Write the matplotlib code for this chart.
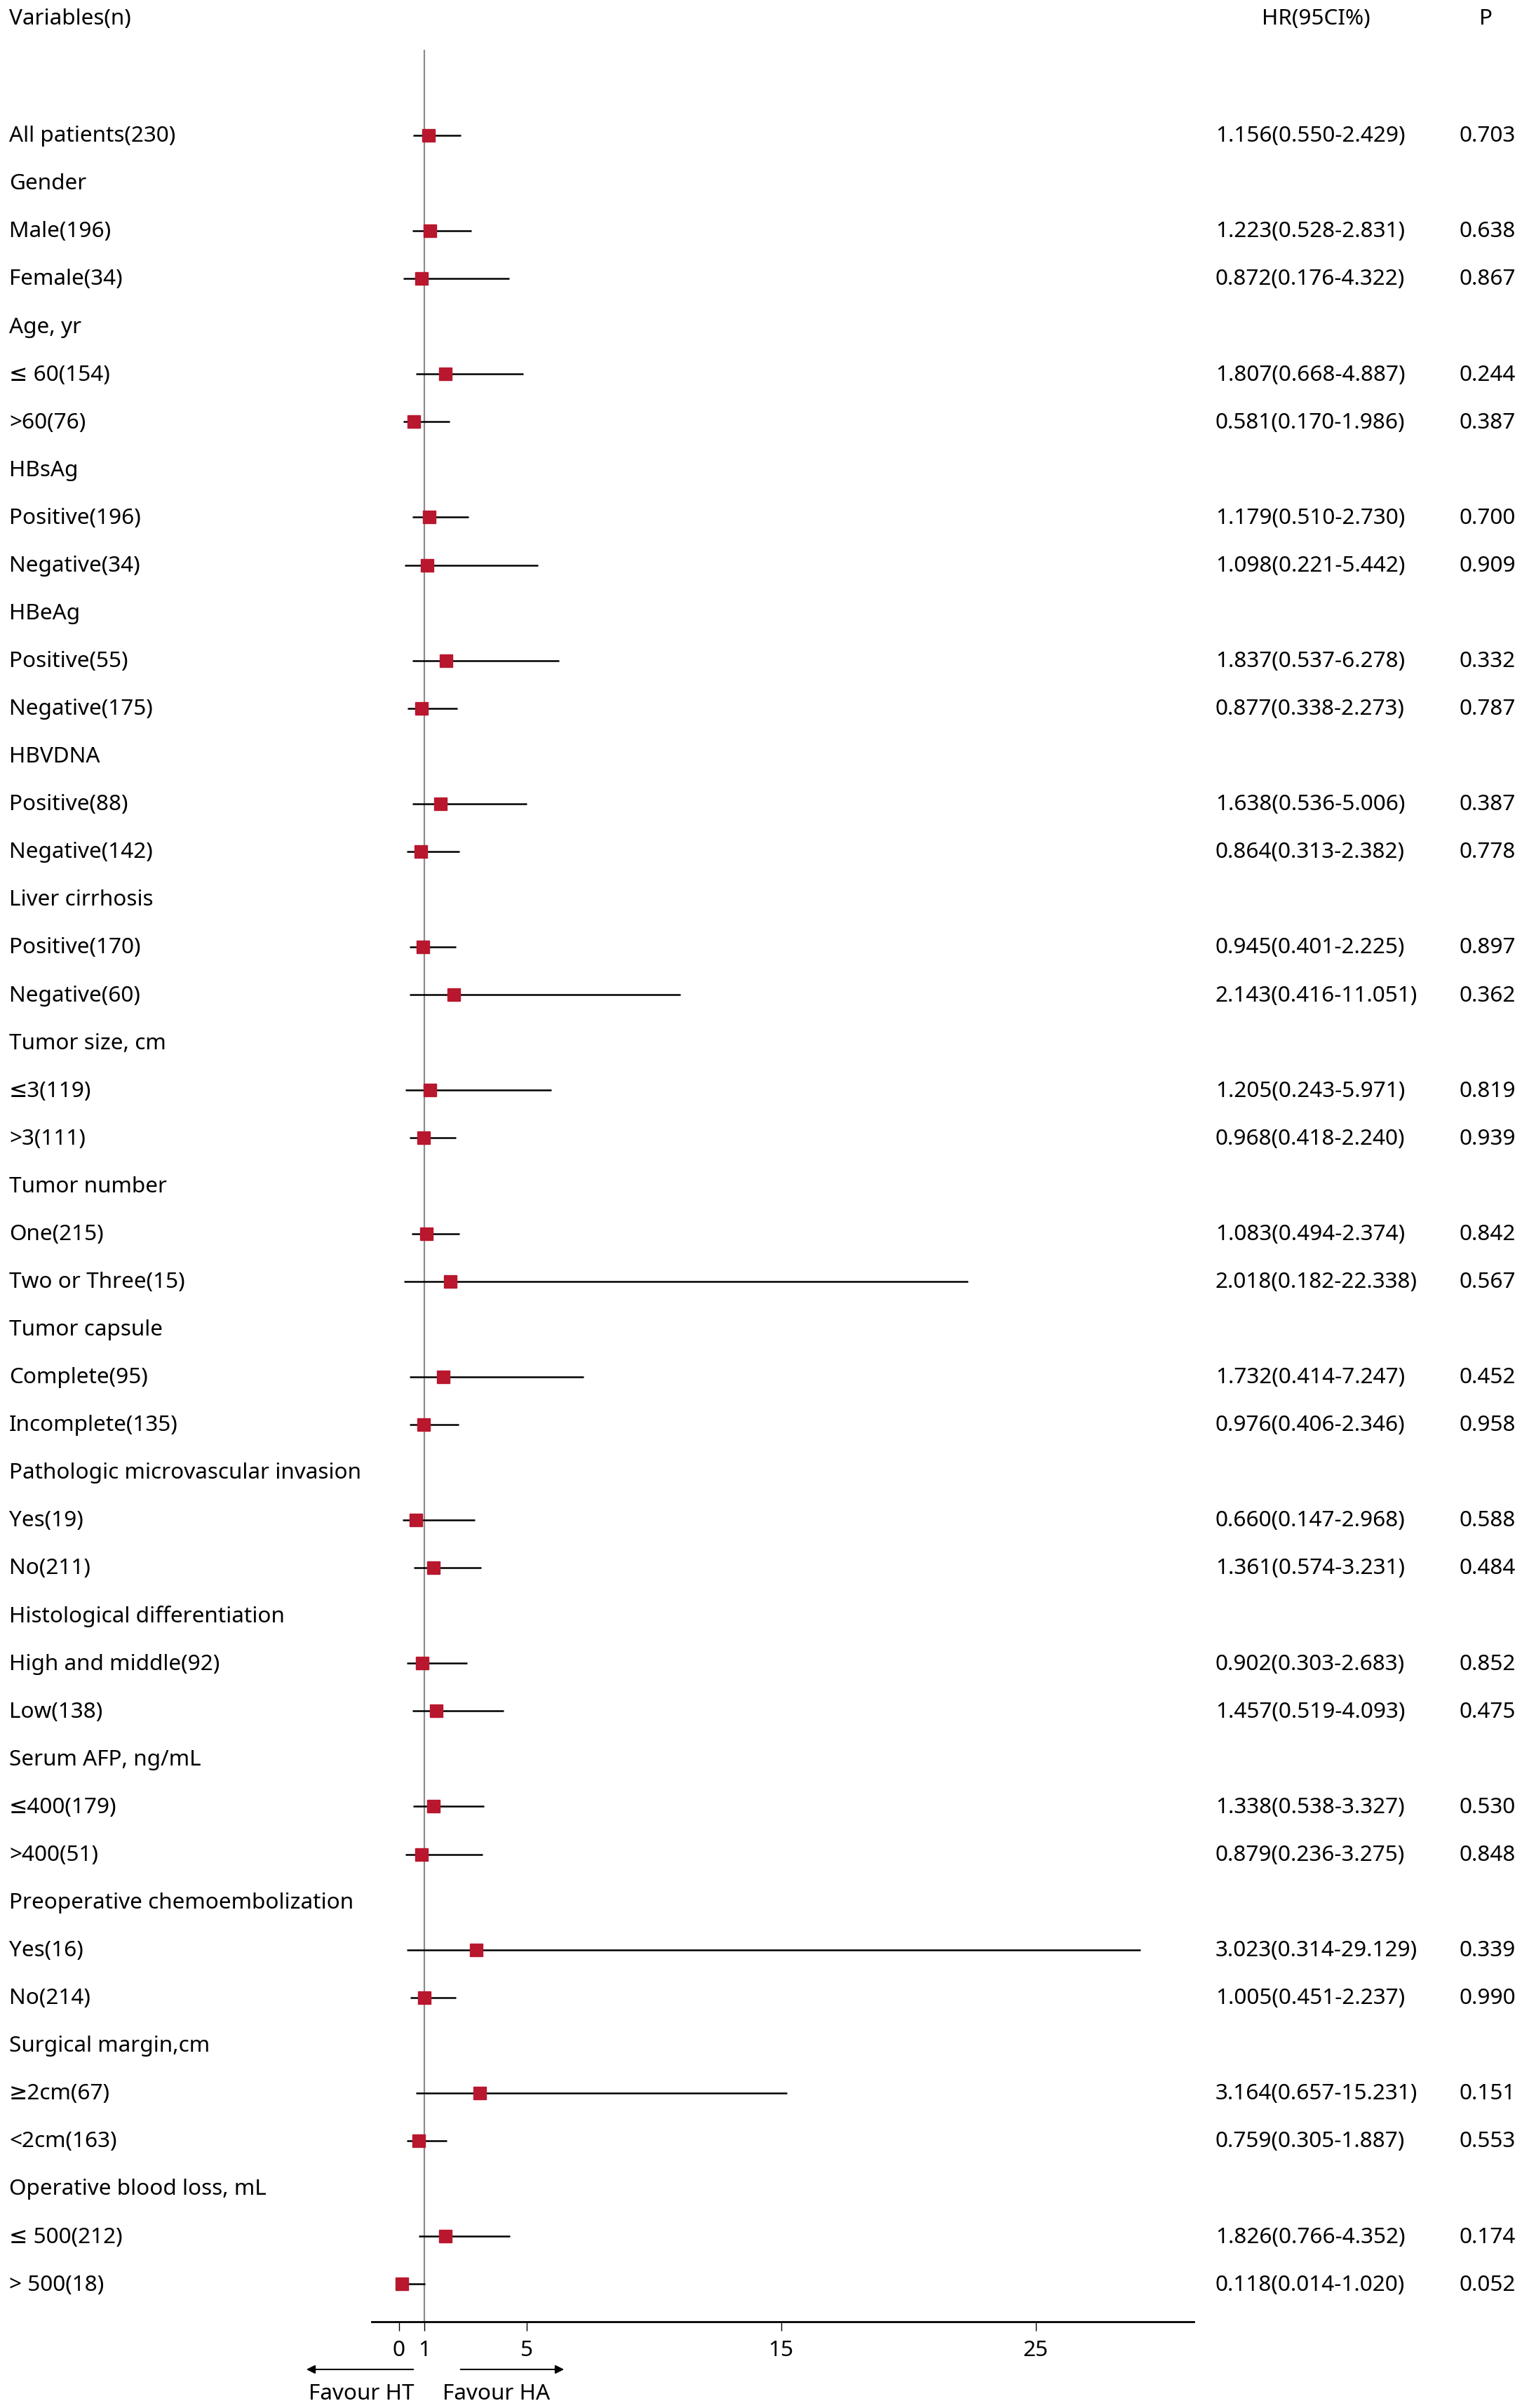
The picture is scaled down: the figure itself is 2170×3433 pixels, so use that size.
import numpy as np
import matplotlib
matplotlib.use("Agg")
import matplotlib.pyplot as plt
from matplotlib.transforms import blended_transform_factory

plt.rcParams['font.family'] = ['Noto Sans', 'DejaVu Sans']

labels = ["All patients(230)", "Gender", "Male(196)", "Female(34)",
          "Age, yr", "≤ 60(154)", ">60(76)",
          "HBsAg", "Positive(196)", "Negative(34)",
          "HBeAg", "Positive(55)", "Negative(175)",
          "HBVDNA", "Positive(88)", "Negative(142)",
          "Liver cirrhosis", "Positive(170)", "Negative(60)",
          "Tumor size, cm", "≤3(119)", ">3(111)",
          "Tumor number", "One(215)", "Two or Three(15)",
          "Tumor capsule", "Complete(95)", "Incomplete(135)",
          "Pathologic microvascular invasion", "Yes(19)", "No(211)",
          "Histological differentiation", "High and middle(92)", "Low(138)",
          "Serum AFP, ng/mL", "≤400(179)", ">400(51)",
          "Preoperative chemoembolization", "Yes(16)", "No(214)",
          "Surgical margin,cm", "≥2cm(67)", "<2cm(163)",
          "Operative blood loss, mL", "≤ 500(212)", "> 500(18)"]
nan = np.nan
hr = [1.156, nan, 1.223, 0.872, nan, 1.807, 0.581, nan, 1.179, 1.098,
      nan, 1.837, 0.877, nan, 1.638, 0.864, nan, 0.945, 2.143,
      nan, 1.205, 0.968, nan, 1.083, 2.018, nan, 1.732, 0.976,
      nan, 0.660, 1.361, nan, 0.902, 1.457, nan, 1.338, 0.879,
      nan, 3.023, 1.005, nan, 3.164, 0.759, nan, 1.826, 0.118]
lo = [0.550, nan, 0.528, 0.176, nan, 0.668, 0.170, nan, 0.510, 0.221,
      nan, 0.537, 0.338, nan, 0.536, 0.313, nan, 0.401, 0.416,
      nan, 0.243, 0.418, nan, 0.494, 0.182, nan, 0.414, 0.406,
      nan, 0.147, 0.574, nan, 0.303, 0.519, nan, 0.538, 0.236,
      nan, 0.314, 0.451, nan, 0.657, 0.305, nan, 0.766, 0.014]
hi = [2.429, nan, 2.831, 4.322, nan, 4.887, 1.986, nan, 2.730, 5.442,
      nan, 6.278, 2.273, nan, 5.006, 2.382, nan, 2.225, 11.051,
      nan, 5.971, 2.240, nan, 2.374, 22.338, nan, 7.247, 2.346,
      nan, 2.968, 3.231, nan, 2.683, 4.093, nan, 3.327, 3.275,
      nan, 29.129, 2.237, nan, 15.231, 1.887, nan, 4.352, 1.020]
pval = [0.703, nan, 0.638, 0.867, nan, 0.244, 0.387, nan, 0.700, 0.909,
        nan, 0.332, 0.787, nan, 0.387, 0.778, nan, 0.897, 0.362,
        nan, 0.819, 0.939, nan, 0.842, 0.567, nan, 0.452, 0.958,
        nan, 0.588, 0.484, nan, 0.852, 0.475, nan, 0.530, 0.848,
        nan, 0.339, 0.990, nan, 0.151, 0.553, nan, 0.174, 0.052]
xticks = [0, 1, 5, 15, 25]

W, H = 2170, 3433
fig = plt.figure(figsize=(W / 100, H / 100), dpi=100)
ax = fig.add_axes([530 / W, 1 - 3310 / H, 1172 / W, (3310 - 71) / H])

n = len(labels)
y = np.arange(n)
hr = np.array(hr)
lo = np.array(lo)
hi = np.array(hi)
has = ~np.isnan(hr)

ax.axvline(1, color='#8c8c8c', lw=1.6, zorder=1)
ax.hlines(y[has], lo[has], hi[has], color='black', lw=1.8, zorder=2)
ax.plot(hr[has], y[has], 's', color='#B8172E', ms=13, mec='#B8172E', zorder=3)

ax.set_xlim(-1.074, 31.21)
ax.set_ylim(45.79, -1.79)
for s in ['top', 'right', 'left']:
    ax.spines[s].set_visible(False)
ax.spines['bottom'].set_linewidth(2.0)
ax.set_yticks([])
ax.set_xticks(xticks)
ax.set_xticklabels([str(t) for t in xticks])

fs = 22.7
ax.tick_params(axis='x', length=9, width=1.0, pad=10, labelsize=fs)

tr = blended_transform_factory(fig.transFigure, ax.transData)
dy = 0.02  # small downward nudge of the text rows
for i in range(n):
    ax.text(13 / W, i + dy, labels[i], transform=tr, fontsize=fs, va='center', ha='left')
    if has[i]:
        ax.text(1733 / W, i + dy, f"{hr[i]:.3f}({lo[i]:.3f}-{hi[i]:.3f})",
                transform=tr, fontsize=fs, va='center', ha='left')
        ax.text(2080 / W, i + dy, f"{pval[i]:.3f}", transform=tr, fontsize=fs,
                va='center', ha='left')

fig.text(13 / W, 1 - 27 / H, "Variables(n)", fontsize=fs, va='center', ha='left')
fig.text(1876 / W, 1 - 27 / H, "HR(95CI%)", fontsize=fs, va='center', ha='center')
fig.text(2119 / W, 1 - 27 / H, "P", fontsize=fs, va='center', ha='center')

# direction arrows below the axis
arr = dict(arrowstyle='-|>', color='black', lw=1.5, mutation_scale=18)
fig.add_artist(matplotlib.patches.FancyArrowPatch((592 / W, 1 - 3378 / H), (434 / W, 1 - 3378 / H),
                                                  transform=fig.transFigure, **arr))
fig.add_artist(matplotlib.patches.FancyArrowPatch((654 / W, 1 - 3378 / H), (807 / W, 1 - 3378 / H),
                                                  transform=fig.transFigure, **arr))
fig.text(515 / W, 1 - 3413 / H, "Favour HT", fontsize=fs, va='center', ha='center')
fig.text(708 / W, 1 - 3413 / H, "Favour HA", fontsize=fs, va='center', ha='center')

fig.savefig("out.png", dpi=100)
